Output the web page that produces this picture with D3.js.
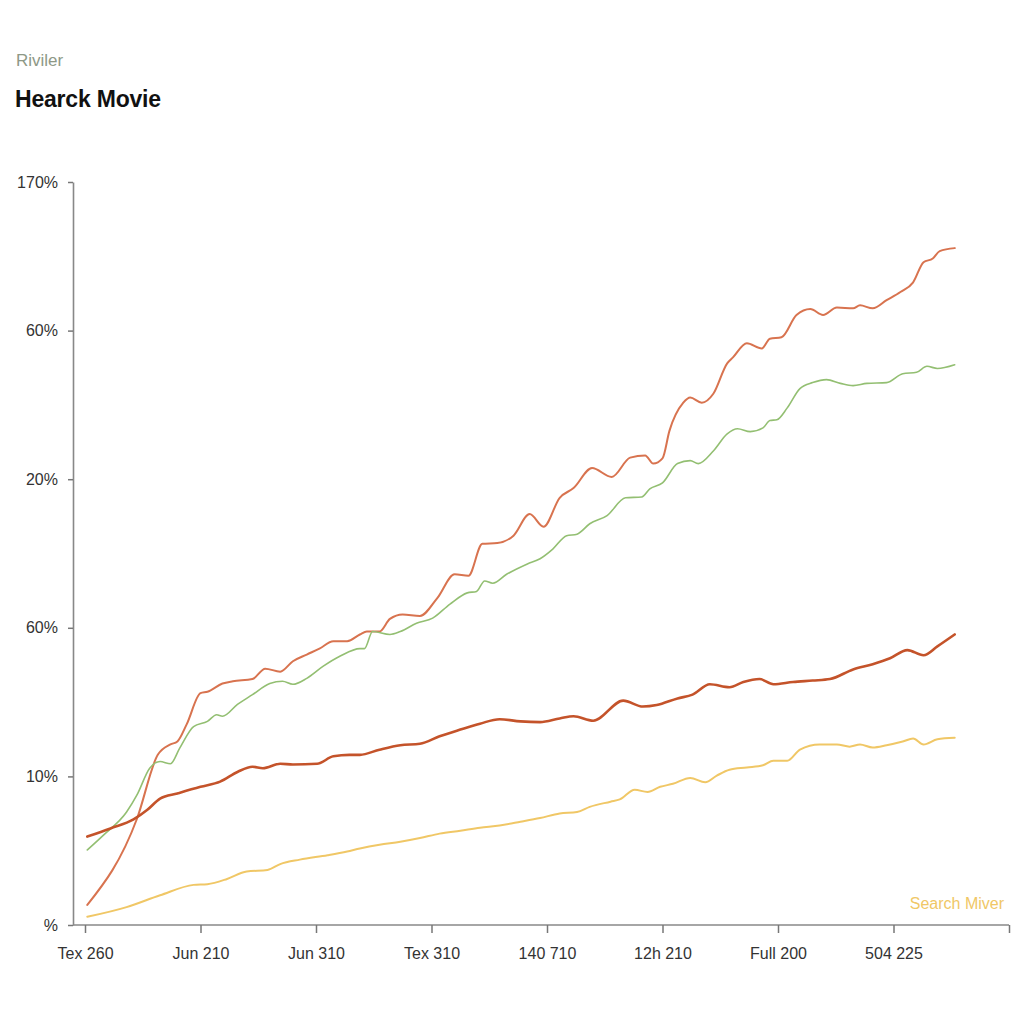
<!DOCTYPE html>
<html>
<head>
<meta charset="utf-8">
<script src="https://cdn.jsdelivr.net/npm/d3@7"></script>
<style>
  body { margin: 0; background: #fff; }
  svg { display: block; font-family: "Liberation Sans", Arial, sans-serif; }
</style>
</head>
<body>
<svg id="chart" width="1024" height="1024"></svg>
<script>
  // y ticks as they read on the picture, bottom to top
  var yTickValues = [0, 20, 40, 60, 80, 100];
  var yTickLabels = ['%', '10%', '60%', '20%', '60%', '170%'];
  var xTickLabels = ['Tex 260', 'Jun 210', 'Jun 310', 'Tex 310', '140 710', '12h 210', 'Full 200', '504 225', ''];

  // [x, y] pairs; x in tick steps, y in axis units
  var upperRed = [
    [0.02, 2.7], [0.45, 14.3], [0.63, 22.9], [0.74, 24.3], [0.80, 24.7], [0.88, 27.0], [1.00, 31.2],
    [1.06, 31.4], [1.19, 32.5], [1.28, 32.8], [1.45, 33.1], [1.56, 34.5], [1.69, 34.1], [1.80, 35.5],
    [1.92, 36.4], [2.03, 37.2], [2.15, 38.2], [2.27, 38.2], [2.38, 39.1], [2.44, 39.5], [2.55, 39.5],
    [2.64, 41.2], [2.75, 41.8], [2.90, 41.6], [3.05, 44.0], [3.20, 47.2], [3.32, 47.0], [3.44, 51.3],
    [3.57, 51.4], [3.71, 52.4], [3.85, 55.3], [3.97, 53.6], [4.11, 57.5], [4.23, 58.8], [4.39, 61.5],
    [4.56, 60.3], [4.72, 62.9], [4.85, 63.2], [4.92, 62.1], [5.00, 62.8], [5.06, 66.5], [5.18, 70.3],
    [5.24, 71.0], [5.34, 70.3], [5.44, 71.5], [5.56, 75.6], [5.61, 76.4], [5.73, 78.3], [5.86, 77.6],
    [5.93, 78.9], [6.03, 79.1], [6.16, 82.1], [6.28, 82.9], [6.39, 82.1], [6.51, 83.1], [6.65, 83.0],
    [6.71, 83.4], [6.82, 83.0], [6.94, 84.1], [7.06, 85.2], [7.17, 86.5], [7.26, 89.2], [7.34, 89.7],
    [7.40, 90.7], [7.53, 91.1]
  ];

  var green = [
    [0.02, 10.1], [0.16, 12.1], [0.36, 15.2], [0.45, 17.5], [0.56, 21.1], [0.65, 22.0], [0.74, 21.7],
    [0.82, 23.8], [0.94, 26.7], [1.06, 27.4], [1.14, 28.3], [1.19, 28.1], [1.32, 29.7], [1.45, 31.0],
    [1.60, 32.5], [1.71, 32.8], [1.80, 32.4], [1.92, 33.2], [2.06, 34.8], [2.21, 36.2], [2.38, 37.2],
    [2.42, 37.2], [2.49, 39.5], [2.64, 39.1], [2.73, 39.5], [2.87, 40.6], [3.01, 41.3], [3.16, 43.2],
    [3.31, 44.7], [3.39, 44.9], [3.46, 46.3], [3.53, 46.0], [3.65, 47.2], [3.83, 48.6], [3.94, 49.3],
    [4.05, 50.6], [4.17, 52.4], [4.26, 52.6], [4.37, 54.0], [4.52, 55.1], [4.68, 57.5], [4.82, 57.6],
    [4.89, 58.7], [5.00, 59.5], [5.13, 62.1], [5.24, 62.5], [5.31, 62.1], [5.44, 63.8], [5.56, 66.1],
    [5.65, 66.8], [5.76, 66.4], [5.87, 66.9], [5.93, 67.9], [5.99, 68.0], [6.08, 69.6], [6.19, 72.2],
    [6.30, 73.0], [6.42, 73.4], [6.54, 72.9], [6.65, 72.6], [6.77, 72.9], [6.94, 73.0], [7.08, 74.2],
    [7.20, 74.4], [7.29, 75.2], [7.38, 74.9], [7.53, 75.4]
  ];

  var middleRed = [
    [0.02, 11.9], [0.22, 13.0], [0.42, 14.2], [0.54, 15.5], [0.65, 17.0], [0.80, 17.7], [1.00, 18.6],
    [1.17, 19.3], [1.32, 20.6], [1.45, 21.3], [1.54, 21.1], [1.69, 21.7], [1.80, 21.6], [2.01, 21.7],
    [2.15, 22.7], [2.29, 22.9], [2.38, 22.9], [2.55, 23.6], [2.73, 24.2], [2.90, 24.4], [3.07, 25.4],
    [3.25, 26.3], [3.42, 27.1], [3.59, 27.7], [3.77, 27.4], [3.94, 27.3], [4.11, 27.8], [4.23, 28.1],
    [4.40, 27.5], [4.66, 30.2], [4.83, 29.4], [4.95, 29.6], [5.13, 30.5], [5.26, 31.0], [5.41, 32.4],
    [5.58, 32.0], [5.70, 32.7], [5.84, 33.1], [5.96, 32.4], [6.13, 32.7], [6.30, 32.9], [6.45, 33.1],
    [6.65, 34.4], [6.82, 35.1], [6.97, 35.9], [7.12, 37.0], [7.26, 36.3], [7.38, 37.5], [7.53, 39.1]
  ];

  var yellow = [
    [0.02, 1.1], [0.36, 2.4], [0.65, 4.0], [0.94, 5.4], [1.06, 5.5], [1.23, 6.2], [1.40, 7.2],
    [1.58, 7.4], [1.69, 8.2], [1.86, 8.8], [2.10, 9.4], [2.27, 9.9], [2.38, 10.3], [2.55, 10.8],
    [2.73, 11.2], [2.90, 11.7], [3.07, 12.3], [3.25, 12.7], [3.42, 13.1], [3.59, 13.4], [3.77, 13.9],
    [3.94, 14.4], [4.11, 15.0], [4.26, 15.2], [4.37, 15.9], [4.55, 16.6], [4.63, 16.9], [4.76, 18.2],
    [4.87, 17.9], [4.98, 18.6], [5.09, 19.0], [5.24, 19.8], [5.37, 19.2], [5.47, 20.1], [5.58, 20.9],
    [5.73, 21.2], [5.87, 21.5], [5.96, 22.1], [6.08, 22.1], [6.19, 23.6], [6.36, 24.3], [6.51, 24.3],
    [6.62, 24.0], [6.71, 24.3], [6.82, 23.9], [6.94, 24.2], [7.08, 24.7], [7.17, 25.1], [7.26, 24.3],
    [7.38, 25.0], [7.53, 25.2]
  ];

  var series = [
    {name: 'upper', values: upperRed, color: '#d8734f', width: 2},
    {name: 'green', values: green, color: '#93bf72', width: 1.6},
    {name: 'middle', values: middleRed, color: '#c4532a', width: 2.6},
    {name: 'yellow', values: yellow, color: '#f0c766', width: 2}
  ];

  var svg = d3.select('#chart');
  var x = d3.scaleLinear().domain([0, 8]).range([85, 1009]);
  var y = d3.scaleLinear().domain([0, 100]).range([925, 182]);
  var axisLeftX = 73;

  svg.append('text')
      .attr('x', 16).attr('y', 66)
      .attr('font-size', 17)
      .attr('fill', '#8e9886')
      .text('Riviler');

  svg.append('text')
      .attr('x', 15).attr('y', 107)
      .attr('font-size', 23)
      .attr('font-weight', 'bold')
      .attr('letter-spacing', -0.2)
      .attr('fill', '#111')
      .text('Hearck Movie');

  var yAxis = svg.append('g')
      .attr('transform', 'translate(' + axisLeftX + ',0)')
      .call(d3.axisLeft(y)
          .tickValues(yTickValues)
          .tickSize(5)
          .tickSizeOuter(0)
          .tickPadding(10)
          .tickFormat(function (d, i) { return yTickLabels[i]; }));

  yAxis.select('.domain').attr('stroke', '#888').attr('stroke-width', 1.6);
  yAxis.selectAll('.tick line').attr('stroke', '#777').attr('stroke-width', 1.5);
  yAxis.selectAll('.tick text')
      .attr('font-size', 16)
      .attr('fill', '#333')
      .attr('font-family', '"Liberation Sans", Arial, sans-serif');

  var xAxis = svg.append('g')
      .attr('transform', 'translate(0,' + y(0) + ')')
      .call(d3.axisBottom(x)
          .tickValues(d3.range(0, 9))
          .tickSize(8)
          .tickSizeOuter(0)
          .tickPadding(15)
          .tickFormat(function (d, i) { return xTickLabels[i]; }));

  xAxis.select('.domain').remove();
  xAxis.insert('line', ':first-child')
      .attr('x1', axisLeftX).attr('x2', x.range()[1])
      .attr('y1', 0).attr('y2', 0)
      .attr('stroke', '#888')
      .attr('stroke-width', 1.6);
  xAxis.selectAll('.tick line').attr('stroke', '#777').attr('stroke-width', 1.5);
  xAxis.selectAll('.tick text')
      .attr('font-size', 16)
      .attr('fill', '#333')
      .attr('font-family', '"Liberation Sans", Arial, sans-serif');

  var line = d3.line()
      .x(function (d) { return x(d[0]); })
      .y(function (d) { return y(d[1]); })
      .curve(d3.curveMonotoneX);

  svg.append('g').selectAll('path.series')
      .data(series)
      .enter().append('path')
      .attr('class', 'series')
      .attr('fill', 'none')
      .attr('stroke', function (d) { return d.color; })
      .attr('stroke-width', function (d) { return d.width; })
      .attr('stroke-linejoin', 'round')
      .attr('stroke-linecap', 'round')
      .attr('d', function (d) { return line(d.values); });

  svg.append('text')
      .attr('x', 1004).attr('y', 909)
      .attr('text-anchor', 'end')
      .attr('font-size', 16)
      .attr('fill', '#f0c766')
      .text('Search Miver');
</script>
</body>
</html>
